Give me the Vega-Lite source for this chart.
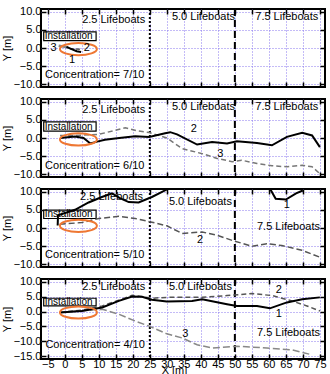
{
  "$schema": "https://vega.github.io/schema/vega-lite/v6.json",
  "padding": {"left": 0, "top": 4, "right": 7, "bottom": 0},
  "spacing": 12,
  "bounds": "flush",
  "datasets": {
    "lines": [
      {"panel": 1, "series": "3", "x": -1.8, "y": 0.6},
      {"panel": 1, "series": "3", "x": -0.5, "y": 0.4},
      {"panel": 1, "series": "3", "x": 1.0, "y": 0.1},
      {"panel": 1, "series": "1", "x": 0.5, "y": 0.3},
      {"panel": 1, "series": "1", "x": 2.0, "y": -0.3},
      {"panel": 1, "series": "1", "x": 3.5, "y": -0.9},
      {"panel": 1, "series": "1", "x": 4.8, "y": -1.1},
      {"panel": 1, "series": "2", "x": 1.5, "y": -0.2},
      {"panel": 1, "series": "2", "x": 5.0, "y": -0.4},

      {"panel": 2, "series": "2", "x": -1.4, "y": 0.0},
      {"panel": 2, "series": "2", "x": 3.0, "y": 0.4},
      {"panel": 2, "series": "2", "x": 5.5, "y": 0.0},
      {"panel": 2, "series": "2", "x": 7.5, "y": -1.5},
      {"panel": 2, "series": "2", "x": 9.5, "y": -1.0},
      {"panel": 2, "series": "2", "x": 11.8, "y": -0.5},
      {"panel": 2, "series": "2", "x": 16.0, "y": 0.0},
      {"panel": 2, "series": "2", "x": 20.7, "y": 0.5},
      {"panel": 2, "series": "2", "x": 24.8, "y": 0.3},
      {"panel": 2, "series": "2", "x": 29.5, "y": 1.3},
      {"panel": 2, "series": "2", "x": 31.0, "y": 1.6},
      {"panel": 2, "series": "2", "x": 33.0, "y": 1.0},
      {"panel": 2, "series": "2", "x": 38.9, "y": -1.8},
      {"panel": 2, "series": "2", "x": 43.3, "y": -1.1},
      {"panel": 2, "series": "2", "x": 47.7, "y": -1.5},
      {"panel": 2, "series": "2", "x": 50.6, "y": -0.9},
      {"panel": 2, "series": "2", "x": 56.5, "y": -1.4},
      {"panel": 2, "series": "2", "x": 60.9, "y": -2.0},
      {"panel": 2, "series": "2", "x": 65.3, "y": 0.3},
      {"panel": 2, "series": "2", "x": 69.8, "y": 1.4},
      {"panel": 2, "series": "2", "x": 72.7, "y": 0.7},
      {"panel": 2, "series": "2", "x": 75.0, "y": -2.5},
      {"panel": 2, "series": "3", "x": -1.4, "y": 0.7},
      {"panel": 2, "series": "3", "x": 3.0, "y": 0.7},
      {"panel": 2, "series": "3", "x": 10.0, "y": 1.0},
      {"panel": 2, "series": "3", "x": 17.8, "y": 2.8},
      {"panel": 2, "series": "3", "x": 21.2, "y": 2.0},
      {"panel": 2, "series": "3", "x": 24.8, "y": 1.5},
      {"panel": 2, "series": "3", "x": 30.0, "y": 0.0},
      {"panel": 2, "series": "3", "x": 34.5, "y": -2.9},
      {"panel": 2, "series": "3", "x": 40.4, "y": -4.3},
      {"panel": 2, "series": "3", "x": 44.8, "y": -5.6},
      {"panel": 2, "series": "3", "x": 49.2, "y": -6.5},
      {"panel": 2, "series": "3", "x": 52.0, "y": -6.1},
      {"panel": 2, "series": "3", "x": 56.5, "y": -7.0},
      {"panel": 2, "series": "3", "x": 60.9, "y": -7.6},
      {"panel": 2, "series": "3", "x": 65.3, "y": -7.9},
      {"panel": 2, "series": "3", "x": 69.8, "y": -7.5},
      {"panel": 2, "series": "3", "x": 72.7, "y": -7.9},
      {"panel": 2, "series": "3", "x": 75.0, "y": -9.8},

      {"panel": 3, "series": "1", "x": -2.1, "y": 0.7},
      {"panel": 3, "series": "1", "x": -2.0, "y": 3.5},
      {"panel": 3, "series": "1", "x": 3.0, "y": 5.0},
      {"panel": 3, "series": "1", "x": 7.0, "y": 7.0},
      {"panel": 3, "series": "1", "x": 10.9, "y": 8.5},
      {"panel": 3, "series": "1", "x": 13.9, "y": 9.5},
      {"panel": 3, "series": "1", "x": 16.2, "y": 8.2},
      {"panel": 3, "series": "1", "x": 18.8, "y": 7.1},
      {"panel": 3, "series": "1", "x": 21.7, "y": 7.0},
      {"panel": 3, "series": "1", "x": 25.6, "y": 8.5},
      {"panel": 3, "series": "1", "x": 28.6, "y": 9.9},
      {"panel": 3, "series": "1", "x": 35.0, "y": 13.0},
      {"panel": 3, "series": "1", "x": 55.0, "y": 13.0},
      {"panel": 3, "series": "1", "x": 60.5, "y": 10.5},
      {"panel": 3, "series": "1", "x": 62.0, "y": 8.0},
      {"panel": 3, "series": "1", "x": 65.0, "y": 7.8},
      {"panel": 3, "series": "1", "x": 68.0, "y": 9.5},
      {"panel": 3, "series": "1", "x": 70.0, "y": 10.3},
      {"panel": 3, "series": "2", "x": -1.5, "y": 1.0},
      {"panel": 3, "series": "2", "x": 5.0, "y": 1.5},
      {"panel": 3, "series": "2", "x": 10.0, "y": 2.6},
      {"panel": 3, "series": "2", "x": 15.9, "y": 3.2},
      {"panel": 3, "series": "2", "x": 20.7, "y": 2.6},
      {"panel": 3, "series": "2", "x": 25.6, "y": 1.6},
      {"panel": 3, "series": "2", "x": 30.0, "y": 0.6},
      {"panel": 3, "series": "2", "x": 34.5, "y": -1.5},
      {"panel": 3, "series": "2", "x": 40.4, "y": -1.1},
      {"panel": 3, "series": "2", "x": 44.8, "y": -2.0},
      {"panel": 3, "series": "2", "x": 49.2, "y": -3.4},
      {"panel": 3, "series": "2", "x": 55.0, "y": -5.0},
      {"panel": 3, "series": "2", "x": 59.4, "y": -4.3},
      {"panel": 3, "series": "2", "x": 63.8, "y": -4.8},
      {"panel": 3, "series": "2", "x": 69.7, "y": -6.1},
      {"panel": 3, "series": "2", "x": 75.0, "y": -8.0},

      {"panel": 4, "series": "1", "x": -1.4, "y": -0.3},
      {"panel": 4, "series": "1", "x": 5.0, "y": 0.2},
      {"panel": 4, "series": "1", "x": 11.0, "y": 1.4},
      {"panel": 4, "series": "1", "x": 15.9, "y": 3.6},
      {"panel": 4, "series": "1", "x": 19.8, "y": 5.1},
      {"panel": 4, "series": "1", "x": 22.7, "y": 5.0},
      {"panel": 4, "series": "1", "x": 25.6, "y": 4.0},
      {"panel": 4, "series": "1", "x": 30.0, "y": 3.4},
      {"panel": 4, "series": "1", "x": 37.4, "y": 3.6},
      {"panel": 4, "series": "1", "x": 40.4, "y": 4.2},
      {"panel": 4, "series": "1", "x": 47.7, "y": 2.5},
      {"panel": 4, "series": "1", "x": 50.6, "y": 1.9},
      {"panel": 4, "series": "1", "x": 56.5, "y": 1.9},
      {"panel": 4, "series": "1", "x": 60.3, "y": 1.1},
      {"panel": 4, "series": "1", "x": 65.3, "y": 3.1},
      {"panel": 4, "series": "1", "x": 69.8, "y": 4.2},
      {"panel": 4, "series": "1", "x": 75.0, "y": 4.8},
      {"panel": 4, "series": "2", "x": -1.4, "y": -0.3},
      {"panel": 4, "series": "2", "x": 5.0, "y": 0.5},
      {"panel": 4, "series": "2", "x": 11.0, "y": 1.9},
      {"panel": 4, "series": "2", "x": 15.0, "y": 3.5},
      {"panel": 4, "series": "2", "x": 19.8, "y": 5.5},
      {"panel": 4, "series": "2", "x": 25.6, "y": 4.5},
      {"panel": 4, "series": "2", "x": 30.0, "y": 4.8},
      {"panel": 4, "series": "2", "x": 40.4, "y": 4.8},
      {"panel": 4, "series": "2", "x": 47.7, "y": 5.4},
      {"panel": 4, "series": "2", "x": 55.0, "y": 6.1},
      {"panel": 4, "series": "2", "x": 61.0, "y": 5.4},
      {"panel": 4, "series": "2", "x": 66.8, "y": 3.6},
      {"panel": 4, "series": "2", "x": 71.2, "y": 1.9},
      {"panel": 4, "series": "2", "x": 75.0, "y": 0.2},
      {"panel": 4, "series": "3", "x": -1.4, "y": -0.3},
      {"panel": 4, "series": "3", "x": 5.0, "y": 0.3},
      {"panel": 4, "series": "3", "x": 11.0, "y": 0.8},
      {"panel": 4, "series": "3", "x": 15.9, "y": -0.9},
      {"panel": 4, "series": "3", "x": 20.7, "y": -3.2},
      {"panel": 4, "series": "3", "x": 24.8, "y": -4.9},
      {"panel": 4, "series": "3", "x": 30.0, "y": -7.5},
      {"panel": 4, "series": "3", "x": 34.5, "y": -8.9},
      {"panel": 4, "series": "3", "x": 38.9, "y": -11.2},
      {"panel": 4, "series": "3", "x": 43.3, "y": -12.3},
      {"panel": 4, "series": "3", "x": 50.6, "y": -11.7},
      {"panel": 4, "series": "3", "x": 59.4, "y": -12.3},
      {"panel": 4, "series": "3", "x": 66.8, "y": -12.9},
      {"panel": 4, "series": "3", "x": 72.7, "y": -14.6}
    ],
    "texts": [
      {"panel": 1, "label": "2.5 Lifeboats", "x": 5.1, "y": 7.7},
      {"panel": 1, "label": "5.0 Lifeboats", "x": 31.5, "y": 8.5},
      {"panel": 1, "label": "7.5 Lifeboats", "x": 56.0, "y": 8.5},
      {"panel": 1, "label": "Concentration= 7/10", "x": -5.8, "y": -7.4},
      {"panel": 2, "label": "2.5 Lifeboats", "x": 5.1, "y": 7.6},
      {"panel": 2, "label": "5.0 Lifeboats", "x": 31.5, "y": 8.6},
      {"panel": 2, "label": "7.5 Lifeboats", "x": 56.0, "y": 8.6},
      {"panel": 2, "label": "Concentration= 6/10", "x": -5.8, "y": -7.8},
      {"panel": 3, "label": "2.5 Lifeboats", "x": 4.5, "y": 8.5},
      {"panel": 3, "label": "5.0 Lifeboats", "x": 30.6, "y": 7.1},
      {"panel": 3, "label": "7.5 Lifeboats", "x": 56.5, "y": 0.3},
      {"panel": 3, "label": "Concentration= 5/10", "x": -5.8, "y": -7.5},
      {"panel": 4, "label": "2.5 Lifeboats", "x": 5.1, "y": 8.4},
      {"panel": 4, "label": "5.0 Lifeboats", "x": 30.6, "y": 8.2},
      {"panel": 4, "label": "7.5 Lifeboats", "x": 56.5, "y": -7.2},
      {"panel": 4, "label": "Concentration= 4/10", "x": -5.7, "y": -11.2}
    ],
    "nums": [
      {"panel": 1, "label": "3", "x": -3.3, "y": 0.0},
      {"panel": 1, "label": "2", "x": 6.5, "y": 0.0},
      {"panel": 1, "label": "1", "x": 2.1, "y": -3.3},
      {"panel": 2, "label": "2", "x": 37.9, "y": 2.6},
      {"panel": 2, "label": "3", "x": 45.7, "y": -4.3},
      {"panel": 3, "label": "1", "x": 65.3, "y": 6.2},
      {"panel": 3, "label": "2", "x": 39.8, "y": -3.4},
      {"panel": 4, "label": "1", "x": 62.9, "y": -0.9},
      {"panel": 4, "label": "2", "x": 62.9, "y": 7.3},
      {"panel": 4, "label": "3", "x": 35.4, "y": -7.7}
    ],
    "boxes": [
      {"panel": 1, "label": "Installation", "x": -6.2, "x2": 9.2, "y": 4.4, "y2": 2.0, "ym": 3.2},
      {"panel": 2, "label": "Installation", "x": -6.2, "x2": 9.2, "y": 4.4, "y2": 1.9, "ym": 3.15},
      {"panel": 3, "label": "Installation", "x": -6.2, "x2": 9.2, "y": 4.9, "y2": 2.6, "ym": 3.75},
      {"panel": 4, "label": "Installation", "x": -6.2, "x2": 9.2, "y": 4.5, "y2": 1.9, "ym": 3.2}
    ],
    "ellipses": [
      {"panel": 1, "x": 4.0, "y": -0.3},
      {"panel": 2, "x": 4.0, "y": -0.4},
      {"panel": 3, "x": 4.0, "y": 0.6},
      {"panel": 4, "x": 4.0, "y": -0.3}
    ]
  },
  "config": {
    "view": {"stroke": "black", "strokeWidth": 2},
    "axis": {
      "labelFont": "Liberation Sans", "labelFontSize": 11, "labelColor": "black",
      "titleFont": "Liberation Sans", "titleFontSize": 11, "titleFontWeight": "normal", "titleColor": "black",
      "domain": false, "tickColor": "black", "tickWidth": 1.5, "tickSize": -5,
      "gridColor": "#8877ee", "gridDash": [1, 2], "gridWidth": 1
    },
    "text": {"font": "Liberation Sans", "fontSize": 11, "color": "black"}
  },
  "vconcat": [
    {
      "width": 284, "height": 78,
      "resolve": {"axis": {"x": "independent", "y": "independent"}},
      "layer": [
        {"data": {"values": [{"x": 25}]}, "mark": {"type": "rule", "color": "black", "strokeWidth": 2, "strokeDash": [2, 2]},
         "encoding": {"x": {"field": "x", "type": "quantitative", "scale": {"domain": [-7, 76.5], "nice": false}, "axis": null}}},
        {"data": {"values": [{"x": 50}]}, "mark": {"type": "rule", "color": "black", "strokeWidth": 2, "strokeDash": [7, 4]},
         "encoding": {"x": {"field": "x", "type": "quantitative", "axis": null}}},
        {"data": {"name": "boxes"}, "transform": [{"filter": "datum.panel == 1"}],
         "mark": {"type": "rect", "fill": "white", "stroke": "black", "strokeWidth": 1.2},
         "encoding": {
           "x": {"field": "x", "type": "quantitative", "axis": {"orient": "bottom", "values": [-5,0,5,10,15,20,25,30,35,40,45,50,55,60,65,70,75], "labels": false, "title": null, "grid": true}},
           "x2": {"field": "x2"},
           "y": {"field": "y", "type": "quantitative", "scale": {"domain": [-10.7, 10.7], "nice": false}, "axis": {"orient": "left", "values": [-10,-5,0,5,10], "format": ".1f", "title": "Y [m]", "grid": true, "minExtent": 39, "maxExtent": 39, "labelPadding": 5, "titleX": -29, "titleY": 39}},
           "y2": {"field": "y2"}}},
        {"data": {"name": "boxes"}, "transform": [{"filter": "datum.panel == 1"}],
         "mark": {"type": "text", "align": "left", "baseline": "middle", "dx": 1, "fontSize": 10},
         "encoding": {"x": {"field": "x", "type": "quantitative", "axis": null}, "y": {"field": "ym", "type": "quantitative", "axis": null}, "text": {"field": "label"}}},
        {"data": {"name": "lines"}, "transform": [{"filter": "datum.panel == 1 && datum.series == '3'"}],
         "mark": {"type": "line", "color": "#888888", "strokeWidth": 2.5, "clip": true},
         "encoding": {"x": {"field": "x", "type": "quantitative", "axis": null}, "y": {"field": "y", "type": "quantitative", "axis": null}}},
        {"data": {"name": "lines"}, "transform": [{"filter": "datum.panel == 1 && datum.series == '2'"}],
         "mark": {"type": "line", "color": "#555555", "strokeWidth": 1.5, "strokeDash": [4, 2], "clip": true},
         "encoding": {"x": {"field": "x", "type": "quantitative", "axis": null}, "y": {"field": "y", "type": "quantitative", "axis": null}}},
        {"data": {"name": "lines"}, "transform": [{"filter": "datum.panel == 1 && datum.series == '1'"}],
         "mark": {"type": "line", "color": "black", "strokeWidth": 2, "clip": true},
         "encoding": {"x": {"field": "x", "type": "quantitative", "axis": null}, "y": {"field": "y", "type": "quantitative", "axis": null}}},
        {"data": {"name": "ellipses"}, "transform": [{"filter": "datum.panel == 1"}],
         "mark": {"type": "point", "shape": "M-1,0A1,0.33,0,1,0,1,0A1,0.33,0,1,0,-1,0Z", "size": 1369, "filled": false, "stroke": "#ee7733", "strokeWidth": 2, "opacity": 1},
         "encoding": {
           "x": {"field": "x", "type": "quantitative", "axis": {"orient": "top", "values": [-5,0,5,10,15,20,25,30,35,40,45,50,55,60,65,70,75], "labels": false, "title": null, "grid": false}},
           "y": {"field": "y", "type": "quantitative", "axis": {"orient": "right", "values": [-10,-5,0,5,10], "labels": false, "title": null, "grid": false}}}},
        {"data": {"name": "texts"}, "transform": [{"filter": "datum.panel == 1"}],
         "mark": {"type": "text", "align": "left", "baseline": "middle"},
         "encoding": {"x": {"field": "x", "type": "quantitative", "axis": null}, "y": {"field": "y", "type": "quantitative", "axis": null}, "text": {"field": "label"}}},
        {"data": {"name": "nums"}, "transform": [{"filter": "datum.panel == 1"}],
         "mark": {"type": "text", "align": "center", "baseline": "middle"},
         "encoding": {"x": {"field": "x", "type": "quantitative", "axis": null}, "y": {"field": "y", "type": "quantitative", "axis": null}, "text": {"field": "label"}}}
      ]
    },
    {
      "width": 284, "height": 78,
      "resolve": {"axis": {"x": "independent", "y": "independent"}},
      "layer": [
        {"data": {"values": [{"x": 25}]}, "mark": {"type": "rule", "color": "black", "strokeWidth": 2, "strokeDash": [2, 2]},
         "encoding": {"x": {"field": "x", "type": "quantitative", "scale": {"domain": [-7, 76.5], "nice": false}, "axis": null}}},
        {"data": {"values": [{"x": 50}]}, "mark": {"type": "rule", "color": "black", "strokeWidth": 2, "strokeDash": [7, 4]},
         "encoding": {"x": {"field": "x", "type": "quantitative", "axis": null}}},
        {"data": {"name": "boxes"}, "transform": [{"filter": "datum.panel == 2"}],
         "mark": {"type": "rect", "fill": "white", "stroke": "black", "strokeWidth": 1.2},
         "encoding": {
           "x": {"field": "x", "type": "quantitative", "axis": {"orient": "bottom", "values": [-5,0,5,10,15,20,25,30,35,40,45,50,55,60,65,70,75], "labels": false, "title": null, "grid": true}},
           "x2": {"field": "x2"},
           "y": {"field": "y", "type": "quantitative", "scale": {"domain": [-10.7, 10.7], "nice": false}, "axis": {"orient": "left", "values": [-10,-5,0,5,10], "format": ".1f", "title": "Y [m]", "grid": true, "minExtent": 39, "maxExtent": 39, "labelPadding": 5, "titleX": -29, "titleY": 39}},
           "y2": {"field": "y2"}}},
        {"data": {"name": "boxes"}, "transform": [{"filter": "datum.panel == 2"}],
         "mark": {"type": "text", "align": "left", "baseline": "middle", "dx": 1, "fontSize": 10},
         "encoding": {"x": {"field": "x", "type": "quantitative", "axis": null}, "y": {"field": "ym", "type": "quantitative", "axis": null}, "text": {"field": "label"}}},
        {"data": {"name": "lines"}, "transform": [{"filter": "datum.panel == 2 && datum.series == '3'"}],
         "mark": {"type": "line", "color": "#777777", "strokeWidth": 1.5, "strokeDash": [5, 3], "clip": true},
         "encoding": {"x": {"field": "x", "type": "quantitative", "axis": null}, "y": {"field": "y", "type": "quantitative", "axis": null}}},
        {"data": {"name": "lines"}, "transform": [{"filter": "datum.panel == 2 && datum.series == '2'"}],
         "mark": {"type": "line", "color": "black", "strokeWidth": 2, "clip": true},
         "encoding": {"x": {"field": "x", "type": "quantitative", "axis": null}, "y": {"field": "y", "type": "quantitative", "axis": null}}},
        {"data": {"name": "ellipses"}, "transform": [{"filter": "datum.panel == 2"}],
         "mark": {"type": "point", "shape": "M-1,0A1,0.33,0,1,0,1,0A1,0.33,0,1,0,-1,0Z", "size": 1369, "filled": false, "stroke": "#ee7733", "strokeWidth": 2, "opacity": 1},
         "encoding": {
           "x": {"field": "x", "type": "quantitative", "axis": {"orient": "top", "values": [-5,0,5,10,15,20,25,30,35,40,45,50,55,60,65,70,75], "labels": false, "title": null, "grid": false}},
           "y": {"field": "y", "type": "quantitative", "axis": {"orient": "right", "values": [-10,-5,0,5,10], "labels": false, "title": null, "grid": false}}}},
        {"data": {"name": "texts"}, "transform": [{"filter": "datum.panel == 2"}],
         "mark": {"type": "text", "align": "left", "baseline": "middle"},
         "encoding": {"x": {"field": "x", "type": "quantitative", "axis": null}, "y": {"field": "y", "type": "quantitative", "axis": null}, "text": {"field": "label"}}},
        {"data": {"name": "nums"}, "transform": [{"filter": "datum.panel == 2"}],
         "mark": {"type": "text", "align": "center", "baseline": "middle"},
         "encoding": {"x": {"field": "x", "type": "quantitative", "axis": null}, "y": {"field": "y", "type": "quantitative", "axis": null}, "text": {"field": "label"}}}
      ]
    },
    {
      "width": 284, "height": 78,
      "resolve": {"axis": {"x": "independent", "y": "independent"}},
      "layer": [
        {"data": {"values": [{"x": 25}]}, "mark": {"type": "rule", "color": "black", "strokeWidth": 2, "strokeDash": [2, 2]},
         "encoding": {"x": {"field": "x", "type": "quantitative", "scale": {"domain": [-7, 76.5], "nice": false}, "axis": null}}},
        {"data": {"values": [{"x": 50}]}, "mark": {"type": "rule", "color": "black", "strokeWidth": 2, "strokeDash": [7, 4]},
         "encoding": {"x": {"field": "x", "type": "quantitative", "axis": null}}},
        {"data": {"name": "boxes"}, "transform": [{"filter": "datum.panel == 3"}],
         "mark": {"type": "rect", "fill": "white", "stroke": "black", "strokeWidth": 1.2},
         "encoding": {
           "x": {"field": "x", "type": "quantitative", "axis": {"orient": "bottom", "values": [-5,0,5,10,15,20,25,30,35,40,45,50,55,60,65,70,75], "labels": false, "title": null, "grid": true}},
           "x2": {"field": "x2"},
           "y": {"field": "y", "type": "quantitative", "scale": {"domain": [-10.7, 10.7], "nice": false}, "axis": {"orient": "left", "values": [-10,-5,0,5,10], "format": ".1f", "title": "Y [m]", "grid": true, "minExtent": 39, "maxExtent": 39, "labelPadding": 5, "titleX": -29, "titleY": 39}},
           "y2": {"field": "y2"}}},
        {"data": {"name": "boxes"}, "transform": [{"filter": "datum.panel == 3"}],
         "mark": {"type": "text", "align": "left", "baseline": "middle", "dx": 1, "fontSize": 10},
         "encoding": {"x": {"field": "x", "type": "quantitative", "axis": null}, "y": {"field": "ym", "type": "quantitative", "axis": null}, "text": {"field": "label"}}},
        {"data": {"name": "lines"}, "transform": [{"filter": "datum.panel == 3 && datum.series == '2'"}],
         "mark": {"type": "line", "color": "#555555", "strokeWidth": 1.5, "strokeDash": [6, 3], "clip": true},
         "encoding": {"x": {"field": "x", "type": "quantitative", "axis": null}, "y": {"field": "y", "type": "quantitative", "axis": null}}},
        {"data": {"name": "lines"}, "transform": [{"filter": "datum.panel == 3 && datum.series == '1'"}],
         "mark": {"type": "line", "color": "black", "strokeWidth": 2, "clip": true},
         "encoding": {"x": {"field": "x", "type": "quantitative", "axis": null}, "y": {"field": "y", "type": "quantitative", "axis": null}}},
        {"data": {"name": "ellipses"}, "transform": [{"filter": "datum.panel == 3"}],
         "mark": {"type": "point", "shape": "M-1,0A1,0.33,0,1,0,1,0A1,0.33,0,1,0,-1,0Z", "size": 1369, "filled": false, "stroke": "#ee7733", "strokeWidth": 2, "opacity": 1},
         "encoding": {
           "x": {"field": "x", "type": "quantitative", "axis": {"orient": "top", "values": [-5,0,5,10,15,20,25,30,35,40,45,50,55,60,65,70,75], "labels": false, "title": null, "grid": false}},
           "y": {"field": "y", "type": "quantitative", "axis": {"orient": "right", "values": [-10,-5,0,5,10], "labels": false, "title": null, "grid": false}}}},
        {"data": {"name": "texts"}, "transform": [{"filter": "datum.panel == 3"}],
         "mark": {"type": "text", "align": "left", "baseline": "middle"},
         "encoding": {"x": {"field": "x", "type": "quantitative", "axis": null}, "y": {"field": "y", "type": "quantitative", "axis": null}, "text": {"field": "label"}}},
        {"data": {"name": "nums"}, "transform": [{"filter": "datum.panel == 3"}],
         "mark": {"type": "text", "align": "center", "baseline": "middle"},
         "encoding": {"x": {"field": "x", "type": "quantitative", "axis": null}, "y": {"field": "y", "type": "quantitative", "axis": null}, "text": {"field": "label"}}}
      ]
    },
    {
      "width": 284, "height": 80,
      "resolve": {"axis": {"x": "independent", "y": "independent"}},
      "layer": [
        {"data": {"values": [{"x": 25}]}, "mark": {"type": "rule", "color": "black", "strokeWidth": 2, "strokeDash": [2, 2]},
         "encoding": {"x": {"field": "x", "type": "quantitative", "scale": {"domain": [-7, 76.5], "nice": false}, "axis": null}}},
        {"data": {"values": [{"x": 50}]}, "mark": {"type": "rule", "color": "black", "strokeWidth": 2, "strokeDash": [7, 4]},
         "encoding": {"x": {"field": "x", "type": "quantitative", "axis": null}}},
        {"data": {"name": "boxes"}, "transform": [{"filter": "datum.panel == 4"}],
         "mark": {"type": "rect", "fill": "white", "stroke": "black", "strokeWidth": 1.2},
         "encoding": {
           "x": {"field": "x", "type": "quantitative", "axis": {"orient": "bottom", "values": [-5,0,5,10,15,20,25,30,35,40,45,50,55,60,65,70,75], "labels": true, "labelFlush": false, "labelPadding": 4, "title": "X [m]", "titlePadding": -5, "titleX": 133, "grid": true,
             "encode": {"labels": {"update": {"dx": {"signal": "datum.value < 30 ? -2 : -6"}}}}}},
           "x2": {"field": "x2"},
           "y": {"field": "y", "type": "quantitative", "scale": {"domain": [-16, 11], "nice": false}, "axis": {"orient": "left", "values": [-15,-10,-5,0,5,10], "format": ".1f", "title": "Y [m]", "grid": true, "minExtent": 39, "maxExtent": 39, "labelPadding": 5, "titleX": -29, "titleY": 40}},
           "y2": {"field": "y2"}}},
        {"data": {"name": "boxes"}, "transform": [{"filter": "datum.panel == 4"}],
         "mark": {"type": "text", "align": "left", "baseline": "middle", "dx": 1, "fontSize": 10},
         "encoding": {"x": {"field": "x", "type": "quantitative", "axis": null}, "y": {"field": "ym", "type": "quantitative", "axis": null}, "text": {"field": "label"}}},
        {"data": {"name": "lines"}, "transform": [{"filter": "datum.panel == 4 && datum.series == '3'"}],
         "mark": {"type": "line", "color": "#888888", "strokeWidth": 1.5, "strokeDash": [7, 3], "clip": true},
         "encoding": {"x": {"field": "x", "type": "quantitative", "axis": null}, "y": {"field": "y", "type": "quantitative", "axis": null}}},
        {"data": {"name": "lines"}, "transform": [{"filter": "datum.panel == 4 && datum.series == '2'"}],
         "mark": {"type": "line", "color": "#555555", "strokeWidth": 1.5, "strokeDash": [5, 3], "clip": true},
         "encoding": {"x": {"field": "x", "type": "quantitative", "axis": null}, "y": {"field": "y", "type": "quantitative", "axis": null}}},
        {"data": {"name": "lines"}, "transform": [{"filter": "datum.panel == 4 && datum.series == '1'"}],
         "mark": {"type": "line", "color": "black", "strokeWidth": 2, "clip": true},
         "encoding": {"x": {"field": "x", "type": "quantitative", "axis": null}, "y": {"field": "y", "type": "quantitative", "axis": null}}},
        {"data": {"name": "ellipses"}, "transform": [{"filter": "datum.panel == 4"}],
         "mark": {"type": "point", "shape": "M-1,0A1,0.33,0,1,0,1,0A1,0.33,0,1,0,-1,0Z", "size": 1369, "filled": false, "stroke": "#ee7733", "strokeWidth": 2, "opacity": 1},
         "encoding": {
           "x": {"field": "x", "type": "quantitative", "axis": {"orient": "top", "values": [-5,0,5,10,15,20,25,30,35,40,45,50,55,60,65,70,75], "labels": false, "title": null, "grid": false}},
           "y": {"field": "y", "type": "quantitative", "axis": {"orient": "right", "values": [-15,-10,-5,0,5,10], "labels": false, "title": null, "grid": false}}}},
        {"data": {"name": "texts"}, "transform": [{"filter": "datum.panel == 4"}],
         "mark": {"type": "text", "align": "left", "baseline": "middle"},
         "encoding": {"x": {"field": "x", "type": "quantitative", "axis": null}, "y": {"field": "y", "type": "quantitative", "axis": null}, "text": {"field": "label"}}},
        {"data": {"name": "nums"}, "transform": [{"filter": "datum.panel == 4"}],
         "mark": {"type": "text", "align": "center", "baseline": "middle"},
         "encoding": {"x": {"field": "x", "type": "quantitative", "axis": null}, "y": {"field": "y", "type": "quantitative", "axis": null}, "text": {"field": "label"}}}
      ]
    }
  ]
}
